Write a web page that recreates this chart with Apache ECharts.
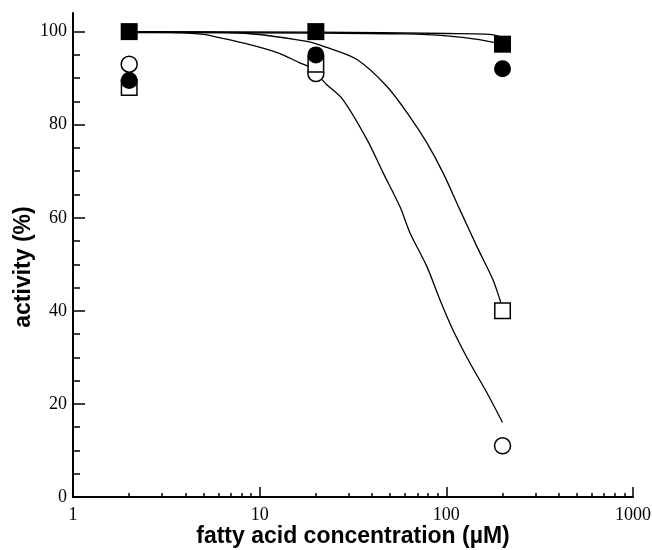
<!DOCTYPE html>
<html><head><meta charset="utf-8">
<script src="https://cdn.jsdelivr.net/npm/echarts@6/dist/echarts.min.js"></script>
<style>html,body{margin:0;padding:0;background:#fff}#c{width:652px;height:550px}</style>
</head><body><div id="c"></div>
<script>
// ---- data ----
const concentrations = [2, 20, 200];
const filledSquares = [100, 100, 97.3];
const filledCircles = [89.5, 95, 92];
const openSquares = [88, 93, 40];
const openCircles = [93, 91, 11];

const fitFlatAX = [2, 20, 100, 170, 200];
const fitFlatAY = [100, 99.9, 99.6, 99.4, 98.8];
const fitFlatBX = [2, 20, 60, 100, 150, 200];
const fitFlatBY = [99.8, 99.7, 99.5, 99.1, 98.3, 97.3];
const fitOpenSquareX = [2, 7.8, 17.9, 22.9, 33.2, 48.1, 63.8, 78.7, 95.9, 118.3, 145.9, 177.7, 193.6, 200];
const fitOpenSquareY = [100, 99.7, 97.9, 96.6, 94.0, 88.2, 81.7, 76.1, 69.7, 61.7, 53.8, 46.7, 42.4, 40.5];
const fitOpenCircleX = [2, 3.6, 5, 6.1, 8.1, 12.4, 16.4, 18.6, 22.9, 27.9, 37.6, 45.8, 56.4, 63.8, 78.7, 92.4, 108.5, 133.8, 165, 200];
const fitOpenCircleY = [100, 99.8, 99.4, 98.7, 97.6, 95.5, 93.3, 92.3, 88.6, 85.4, 76.8, 69.7, 62.4, 56.8, 49.5, 42.4, 35.9, 28.8, 22.4, 16];

const xMajorTicks = [1, 10, 100, 1000];
const xMinorTicks = [2,3,4,5,6,7,8,9,20,30,40,50,60,70,80,90,200,300,400,500,600,700,800,900];
const yMajorTicks = [0, 20, 40, 60, 80, 100];
const yMinorTicks = [5,10,15,25,30,35,45,50,55,65,70,75,85,90,95];

const xTitle = 'fatty acid concentration (\u00b5M)';
const yTitle = 'activity (%)';

// ---- build ----
const zip = (xs, ys) => xs.map((x, i) => [x, ys[i]]);
const labelFont = {color: '#000', fontFamily: 'Liberation Serif', fontSize: 18};
const nameFont = {color: '#000', fontFamily: 'Liberation Sans', fontSize: 23, fontWeight: 'bold'};
const axisLine = {show: true, lineStyle: {color: '#000', width: 2}};

const lineSeries = (xs, ys) => ({
  type: 'line', data: zip(xs, ys), showSymbol: false, symbol: 'none', smooth: 0.3,
  lineStyle: {color: '#000', width: 1.3}, z: 1, silent: true, animation: false
});
const markerSeries = (ys, symbol, filled, size, z) => ({
  type: 'scatter', data: zip(concentrations, ys), symbol: symbol, symbolSize: size, z: z,
  itemStyle: filled ? {color: '#000', opacity: 1} : {color: '#fff', borderColor: '#000', borderWidth: 1.5, opacity: 1},
  animation: false
});

const chart = echarts.init(document.getElementById('c'), null, {renderer: 'canvas'});
chart.setOption({
  backgroundColor: '#fff',
  animation: false,
  grid: {left: 73, right: 19, top: 13, bottom: 53, containLabel: false, outerBoundsMode: 'none'},
  xAxis: [
    {type: 'log', logBase: 10, min: 1, max: 1000, position: 'bottom',
     name: xTitle, nameLocation: 'middle', nameGap: 28, nameMoveOverlap: false, nameTextStyle: nameFont,
     axisLine: axisLine, splitLine: {show: false},
     axisTick: {show: true, inside: true, length: 10, customValues: xMajorTicks, lineStyle: {color: '#000', width: 1.5}},
     axisLabel: {show: true, margin: 9, customValues: xMajorTicks, formatter: v => String(v), ...labelFont, showMinLabel: true, showMaxLabel: true}},
    {type: 'log', logBase: 10, min: 1, max: 1000, position: 'bottom',
     axisLine: {show: false}, splitLine: {show: false},
     axisTick: {show: true, inside: true, length: 4, customValues: xMinorTicks, lineStyle: {color: '#000', width: 1.5}},
     axisLabel: {show: false}}
  ],
  yAxis: [
    {type: 'value', min: 0, max: 104, position: 'left',
     name: yTitle, nameLocation: 'middle', nameGap: 38, nameRotate: 90, nameMoveOverlap: false,
     nameTextStyle: {...nameFont, padding: [0, 24, 0, 0]},
     axisLine: axisLine, splitLine: {show: false},
     axisTick: {show: true, inside: true, length: 12, customValues: yMajorTicks, lineStyle: {color: '#000', width: 1.5}},
     axisLabel: {show: true, margin: 6, customValues: yMajorTicks, ...labelFont}},
    {type: 'value', min: 0, max: 104, position: 'left',
     axisLine: {show: false}, splitLine: {show: false},
     axisTick: {show: true, inside: true, length: 7, customValues: yMinorTicks, lineStyle: {color: '#000', width: 1.5}},
     axisLabel: {show: false}}
  ],
  series: [
    lineSeries(fitFlatAX, fitFlatAY),
    lineSeries(fitFlatBX, fitFlatBY),
    lineSeries(fitOpenSquareX, fitOpenSquareY),
    lineSeries(fitOpenCircleX, fitOpenCircleY),
    markerSeries(openCircles, 'circle', false, 16, 2),
    markerSeries(openSquares, 'rect', false, 15.5, 3),
    markerSeries(filledCircles, 'circle', true, 17, 4),
    markerSeries(filledSquares, 'rect', true, 17, 5)
  ]
});
</script>
</body></html>
